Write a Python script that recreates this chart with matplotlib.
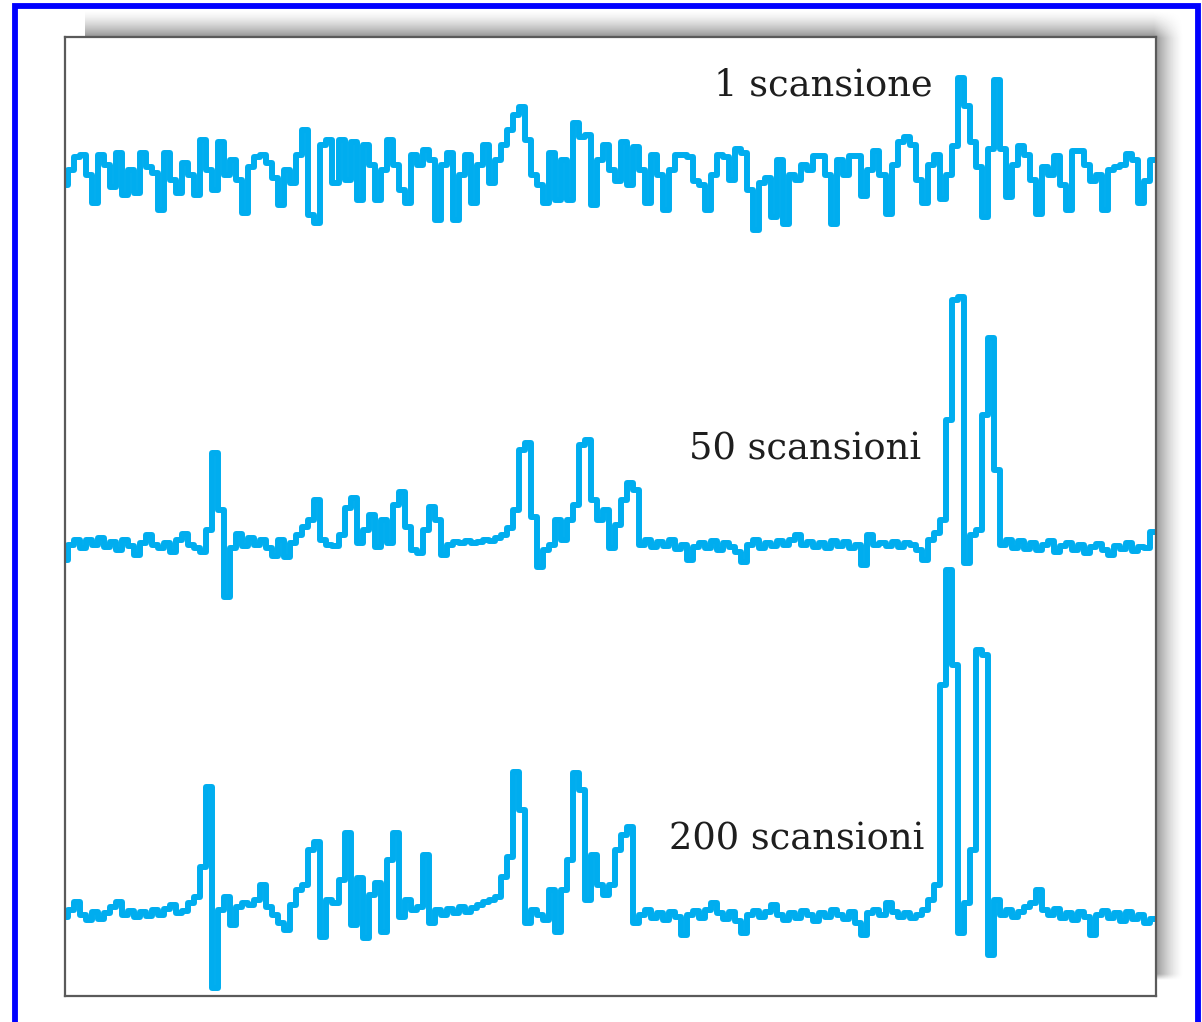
import numpy as np
import matplotlib
matplotlib.use("Agg")
import matplotlib.pyplot as plt

# --- data: three stacked spectra, values = height above each baseline ---
TRACE_1 = [
    -10, 5, 18, 20, 0, -28, 20, 10, -12, 22,
    -20, 5, -18, 22, 8, 2, -35, 22, -5, -18,
    12, 0, -20, 35, 5, -15, 33, 0, 15, -5,
    -38, 8, 18, 20, 12, -3, -30, 5, -8, 20,
    45, -40, -48, 30, 35, -8, 35, -5, 33, -25,
    30, 10, -25, 5, 35, 10, -15, -28, 20, 10,
    25, 15, -45, 10, 22, -45, 0, 20, -28, 10,
    30, -8, 15, 30, 45, 60, 68, 35, 0, -10,
    -28, 22, -25, 15, -25, 52, 38, 40, -30, 15,
    30, 5, -6, 33, -10, 28, 5, -28, 20, 0,
    -35, 5, 20, 20, 18, -6, -10, -35, 0, 20,
    18, -5, 26, 22, -15, -55, -8, -3, -42, 15,
    -49, 0, -5, 10, 5, 19, 19, 0, -49, 15,
    0, 19, 19, -21, 5, 24, 0, -39, 10, 33,
    38, 30, -5, -28, 10, 20, -24, 0, 29, 97,
    69, 33, 8, -42, 26, 95, 26, -22, 10, 29,
    20, -5, -39, 8, 0, 19, -10, -35, 24, 24,
    10, -6, 0, -35, 5, 8, 10, 21, 15, -28,
    -6, 15,
]

TRACE_50 = [
    -15, 0, 5, -3, 5, 0, 7, -2, 3, -5,
    5, -1, -10, 2, 10, 0, -3, 2, -7, 5,
    11, 0, -3, -7, 15, 92, 35, -52, -3, 11,
    -1, 7, 0, 5, -3, -11, 5, -12, 2, 10,
    18, 25, 45, 5, 0, -1, 10, 37, 47, 2,
    15, 30, -2, 25, 2, 40, 53, 18, -5, -8,
    15, 38, 25, -10, 0, 3, 2, 4, 2, 3,
    5, 4, 7, 10, 17, 35, 95, 102, 28, -22,
    -5, 0, 25, 5, 25, 40, 100, 105, 45, 25,
    35, -3, 20, 45, 62, 55, 0, 5, -2, 3,
    -1, 5, -4, 0, -15, -2, 2, -3, 4, -5,
    2, -2, -7, -17, 0, 5, -3, 2, -1, 4,
    0, 5, 10, 0, 3, -2, 2, -3, 4, -1,
    3, -3, 0, -20, 10, 0, 2, -1, 3, -2,
    2, 0, -5, -15, 5, 12, 25, 125, 245, 248,
    -18, 10, 15, 130, 207, 75, 0, 5, -3, 4,
    -4, 2, -5, 0, 4, -7, -1, 2, -5, 0,
    -8, -2, 1, -5, -10, -1, -4, 2, -6, -2,
    -3, 13,
]

TRACE_200 = [
    -2, 5, 13, 0, -5, 3, -4, 2, 8, 13,
    0, 4, -2, 3, -1, 5, 0, 6, 10, 2,
    4, 12, 18, 48, 128, -73, 5, 18, -10, 8,
    12, 10, 15, 30, 8, 0, -8, -15, 10, 25,
    30, 65, 73, -22, 15, 12, 35, 82, -10, 37,
    -23, 20, 32, -17, 55, 82, -2, 15, 5, 8,
    60, -8, 5, 0, 6, 2, 8, 3, 7, 10,
    13, 15, 18, 38, 58, 143, 105, -8, 5, 0,
    -5, 25, -17, 25, 55, 142, 125, 15, 60, 30,
    20, 30, 65, 80, 88, -8, 0, 5, -3, 2,
    -5, 3, -2, -20, 0, 4, -3, 5, 12, 2,
    -4, 3, -6, -18, 0, 4, -2, 3, 10, 0,
    -5, 2, -3, 4, 0, -6, 2, -2, 5, 0,
    -4, 3, -8, -20, 2, 5, 0, 12, 3, -2,
    2, -3, 0, 5, 15, 30, 230, 345, 250, -18,
    12, 65, 265, 260, -40, 15, 0, 5, -2, 3,
    8, 12, 25, 5, 0, 6, -3, 2, -5, 3,
    -2, -20, 0, 4, -3, 2, -6, 3, -4, 0,
    -8, -4,
]

LABELS = ["1 scansione", "50 scansioni", "200 scansioni"]
OFFSETS = [821, 451, 81]          # baseline of each trace in the stack

LINE_COLOR = "#00adef"
W, H = 1202, 1022

fig = plt.figure(figsize=(W / 100, H / 100), dpi=100)
fig.patch.set_facecolor("white")

# background layer in pixel units: blue frame + drop shadow
ax_bg = fig.add_axes([0, 0, 1, 1], zorder=0)
ax_bg.set_xlim(0, W)
ax_bg.set_ylim(H, 0)
ax_bg.axis("off")

xs = np.arange(W) + 0.5
ys = np.arange(H) + 0.5
hx = np.clip((1184 - xs) / 30, 0, 1) ** 1.5 * (xs >= 85)
vy = np.clip((ys - 10) / 28, 0, 1) ** 1.5 * np.clip((980 - ys) / 6, 0, 1)
shade = 1 - 0.45 * np.outer(vy, hx)
ax_bg.imshow(shade, cmap="gray", vmin=0, vmax=1, extent=(0, W, H, 0),
             interpolation="bilinear", aspect="auto")

ax_bg.plot([14.5, 14.5, 1197.5, 1197.5], [H + 10, 6, 6, H + 10],
           color="#0000ff", linewidth=4.2, solid_joinstyle="miter",
           clip_on=False)

# plot box
ax = fig.add_axes([65 / W, 1 - 996 / H, 1091 / W, 959 / H], zorder=1)
ax.set_facecolor("white")
for sp in ax.spines.values():
    sp.set_color("#5a5a5a")
    sp.set_linewidth(1.6)
ax.set_xticks([])
ax.set_yticks([])

for trace, off in zip([TRACE_1, TRACE_50, TRACE_200], OFFSETS):
    vals = np.array(trace) + off
    ch = np.arange(len(vals))
    ax.plot(ch, vals, color=LINE_COLOR, linewidth=4.3, drawstyle="steps-mid")

ax.set_xlim(0, 181.5)
ax.set_ylim(0, 959)

# labels, positioned in figure pixels
label_pos = [(933, 95), (921, 460), (924, 850)]
for text, (px, py) in zip(LABELS, label_pos):
    ax.text(px, py, text, transform=ax_bg.transData, ha="right",
            va="baseline", fontsize=26.5, family="DejaVu Serif",
            color="#1e1e1e", clip_on=False)

fig.savefig("out.png", dpi=100, facecolor="white")
